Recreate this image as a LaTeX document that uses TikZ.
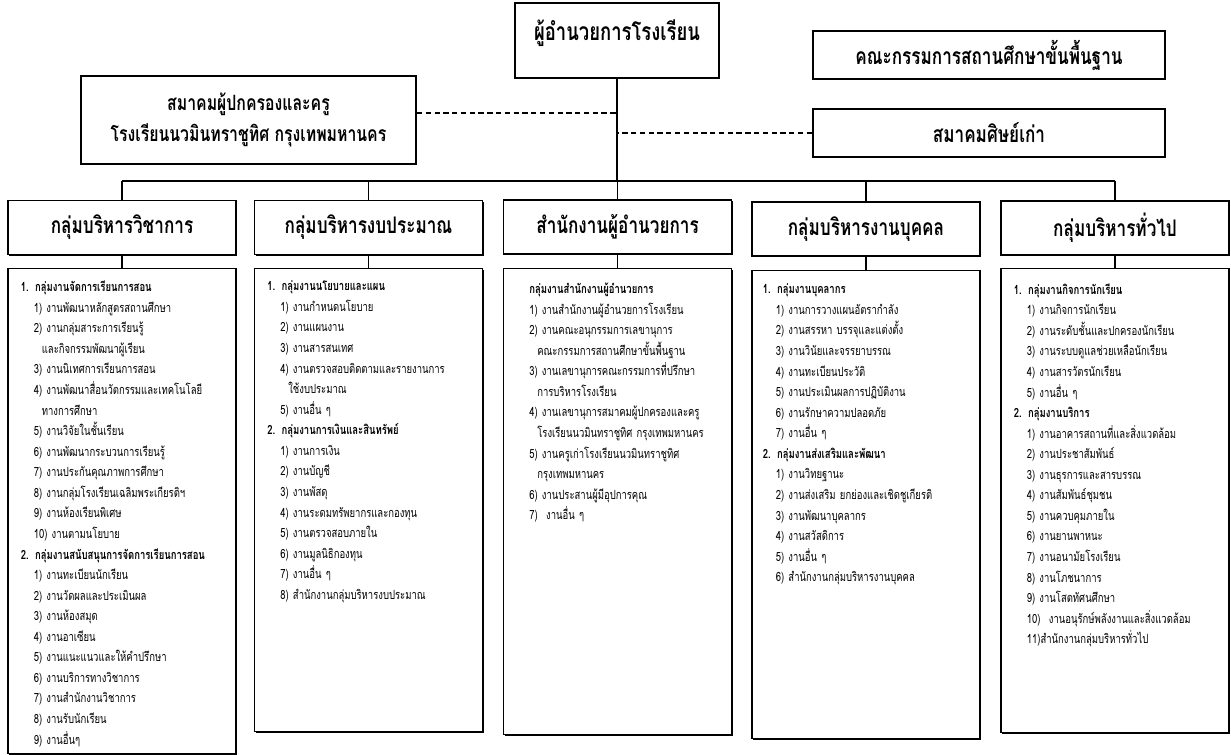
\documentclass[tikz,border=0pt]{standalone}
\usepackage{fontspec}
\setmainfont[Script=Thai,FakeStretch=0.75]{Loma}
\usetikzlibrary{positioning,shadows}

\newcommand{\hdline}[1]{\textbf{#1}}
\newcommand{\jobline}[1]{\hspace*{0.26cm}#1}
\newcommand{\contline}[1]{\hspace*{0.42cm}#1}

\begin{document}
\begin{tikzpicture}[x=0.2mm, y=-0.2mm, semithick,
    box/.style={draw, line width=1.1pt, fill=white, align=center,
      drop shadow={shadow xshift=0.7pt, shadow yshift=-0.7pt, fill=black, opacity=1}},
    head/.style={box, minimum width=4.56cm, minimum height=1.08cm,
      font=\fontsize{13}{15}\selectfont\bfseries},
    list/.style={draw, line width=0.8pt, fill=white, anchor=north, minimum width=4.56cm,
      drop shadow={shadow xshift=0.6pt, shadow yshift=-0.6pt, fill=black, opacity=1}},
    listtext/.style={anchor=north west, inner sep=0pt, text width=5cm, align=left,
      font=\fontsize{7.2}{11.7}\selectfont},
    link/.style={line width=0.7pt},
    bar/.style={line width=1.5pt},
    assoc/.style={densely dashed, line width=0.6pt}]

  \useasboundingbox (0,0) rectangle (1231,755);

  % top level
  \node [box, minimum width=4.08cm, minimum height=1.5cm, text depth=0.42cm,
         font=\fontsize{14}{16}\selectfont\bfseries] (director) at (617,40.5) {ผู้อำนวยการโรงเรียน};
  \node [box, minimum width=7.04cm, minimum height=0.96cm,
         font=\fontsize{13}{15}\selectfont\bfseries] (board) at (989,55) {คณะกรรมการสถานศึกษาขั้นพื้นฐาน};
  \node [box, minimum width=7.04cm, minimum height=0.96cm,
         font=\fontsize{13}{15}\selectfont\bfseries] (alumni) at (989,133) {สมาคมศิษย์เก่า};
  \node [box, minimum width=6.7cm, minimum height=1.76cm,
         font=\fontsize{12}{17.6}\selectfont\bfseries] (parents) at (248.5,120)
         {สมาคมผู้ปกครองและครู\\โรงเรียนนวมินทราชูทิศ กรุงเทพมหานคร};

  % groups
  \node [head] (g1) at (122,227.5)  {กลุ่มบริหารวิชาการ};
  \node [head] (g2) at (368.5,227.5) {กลุ่มบริหารงบประมาณ};
  \node [head] (g3) at (617.5,227)  {สำนักงานผู้อำนวยการ};
  \node [head] (g4) at (866,229)    {กลุ่มบริหารงานบุคคล};
  \node [head] (g5) at (1115,228)   {กลุ่มบริหารทั่วไป};

  \node [list, minimum height=9.7cm]  (l1) at (122,268) {};
  \node [list, minimum height=9.26cm] (l2) at (368.5,268) {};
  \node [list, minimum height=9.32cm] (l3) at (617.5,268) {};
  \node [list, minimum height=9.36cm] (l4) at (866,270) {};
  \node [list, minimum height=9.28cm] (l5) at (1115,268) {};

  % connectors
  \coordinate (hub) at (617,181);
  \coordinate (pa) at ([yshift=0.14cm]parents.east);
  \draw [link] (director.south) -- (hub);
  \draw [bar] (g1.north |- hub) -- (g5.north |- hub);
  \foreach \i in {1,...,5} {
    \draw [link] (g\i.north |- hub) -- (g\i.north);
    \draw [link] (g\i.south) -- (l\i.north);
  }
  \draw [assoc] (pa) -- (pa -| director.south);
  \draw [assoc] (alumni.west) -- (alumni.west -| director.south);

  % job lists
  \node [listtext] (t1) at ([xshift=0.26cm,yshift=-0.25cm]l1.north west) {%
    \hdline{1. กลุ่มงานจัดการเรียนการสอน}\\
    \jobline{1) งานพัฒนาหลักสูตรสถานศึกษา}\\
    \jobline{2) งานกลุ่มสาระการเรียนรู้}\\
    \contline{และกิจกรรมพัฒนาผู้เรียน}\\
    \jobline{3) งานนิเทศการเรียนการสอน}\\
    \jobline{4) งานพัฒนาสื่อนวัตกรรมและเทคโนโลยี}\\
    \contline{ทางการศึกษา}\\
    \jobline{5) งานวิจัยในชั้นเรียน}\\
    \jobline{6) งานพัฒนากระบวนการเรียนรู้}\\
    \jobline{7) งานประกันคุณภาพการศึกษา}\\
    \jobline{8) งานกลุ่มโรงเรียนเฉลิมพระเกียรติฯ}\\
    \jobline{9) งานห้องเรียนพิเศษ}\\
    \jobline{10) งานตามนโยบาย}\\
    \hdline{2. กลุ่มงานสนับสนุนการจัดการเรียนการสอน}\\
    \jobline{1) งานทะเบียนนักเรียน}\\
    \jobline{2) งานวัดผลและประเมินผล}\\
    \jobline{3) งานห้องสมุด}\\
    \jobline{4) งานอาเซียน}\\
    \jobline{5) งานแนะแนวและให้คำปรึกษา}\\
    \jobline{6) งานบริการทางวิชาการ}\\
    \jobline{7) งานสำนักงานวิชาการ}\\
    \jobline{8) งานรับนักเรียน}\\
    \jobline{9) งานอื่นๆ}};

  \node [listtext] (t2) at ([xshift=0.26cm,yshift=-0.25cm]l2.north west) {%
    \hdline{1. กลุ่มงานนโยบายและแผน}\\
    \jobline{1) งานกำหนดนโยบาย}\\
    \jobline{2) งานแผนงาน}\\
    \jobline{3) งานสารสนเทศ}\\
    \jobline{4) งานตรวจสอบติดตามและรายงานการ}\\
    \contline{ใช้งบประมาณ}\\
    \jobline{5) งานอื่น ๆ}\\
    \hdline{2. กลุ่มงานการเงินและสินทรัพย์}\\
    \jobline{1) งานการเงิน}\\
    \jobline{2) งานบัญชี}\\
    \jobline{3) งานพัสดุ}\\
    \jobline{4) งานระดมทรัพยากรและกองทุน}\\
    \jobline{5) งานตรวจสอบภายใน}\\
    \jobline{6) งานมูลนิธิกองทุน}\\
    \jobline{7) งานอื่น ๆ}\\
    \jobline{8) สำนักงานกลุ่มบริหารงบประมาณ}};

  \node [listtext] (t3) at ([xshift=0.26cm,yshift=-0.29cm]l3.north west) {%
    \jobline{\textbf{กลุ่มงานสำนักงานผู้อำนวยการ}}\\
    \jobline{1) งานสำนักงานผู้อำนวยการโรงเรียน}\\
    \jobline{2) งานคณะอนุกรรมการเลขานุการ}\\
    \contline{คณะกรรมการสถานศึกษาขั้นพื้นฐาน}\\
    \jobline{3) งานเลขานุการคณะกรรมการที่ปรึกษา}\\
    \contline{การบริหารโรงเรียน}\\
    \jobline{4) งานเลขานุการสมาคมผู้ปกครองและครู}\\
    \contline{โรงเรียนนวมินทราชูทิศ กรุงเทพมหานคร}\\
    \jobline{5) งานครูเก่าโรงเรียนนวมินทราชูทิศ}\\
    \contline{กรุงเทพมหานคร}\\
    \jobline{6) งานประสานผู้มีอุปการคุณ}\\
    \jobline{7) \ งานอื่น ๆ}};

  \node [listtext] (t4) at ([xshift=0.22cm,yshift=-0.27cm]l4.north west) {%
    \hdline{1. กลุ่มงานบุคลากร}\\
    \jobline{1) งานการวางแผนอัตรากำลัง}\\
    \jobline{2) งานสรรหา บรรจุและแต่งตั้ง}\\
    \jobline{3) งานวินัยและจรรยาบรรณ}\\
    \jobline{4) งานทะเบียนประวัติ}\\
    \jobline{5) งานประเมินผลการปฏิบัติงาน}\\
    \jobline{6) งานรักษาความปลอดภัย}\\
    \jobline{7) งานอื่น ๆ}\\
    \hdline{2. กลุ่มงานส่งเสริมและพัฒนา}\\
    \jobline{1) งานวิทยฐานะ}\\
    \jobline{2) งานส่งเสริม ยกย่องและเชิดชูเกียรติ}\\
    \jobline{3) งานพัฒนาบุคลากร}\\
    \jobline{4) งานสวัสดิการ}\\
    \jobline{5) งานอื่น ๆ}\\
    \jobline{6) สำนักงานกลุ่มบริหารงานบุคคล}};

  \node [listtext] (t5) at ([xshift=0.26cm,yshift=-0.3cm]l5.north west) {%
    \hdline{1. กลุ่มงานกิจการนักเรียน}\\
    \jobline{1) งานกิจการนักเรียน}\\
    \jobline{2) งานระดับชั้นและปกครองนักเรียน}\\
    \jobline{3) งานระบบดูแลช่วยเหลือนักเรียน}\\
    \jobline{4) งานสารวัตรนักเรียน}\\
    \jobline{5) งานอื่น ๆ}\\
    \hdline{2. กลุ่มงานบริการ}\\
    \jobline{1) งานอาคารสถานที่และสิ่งแวดล้อม}\\
    \jobline{2) งานประชาสัมพันธ์}\\
    \jobline{3) งานธุรการและสารบรรณ}\\
    \jobline{4) งานสัมพันธ์ชุมชน}\\
    \jobline{5) งานควบคุมภายใน}\\
    \jobline{6) งานยานพาหนะ}\\
    \jobline{7) งานอนามัยโรงเรียน}\\
    \jobline{8) งานโภชนาการ}\\
    \jobline{9) งานโสตทัศนศึกษา}\\
    \jobline{10) \ งานอนุรักษ์พลังงานและสิ่งแวดล้อม}\\
    \jobline{11)สำนักงานกลุ่มบริหารทั่วไป}};

\end{tikzpicture}
\end{document}
